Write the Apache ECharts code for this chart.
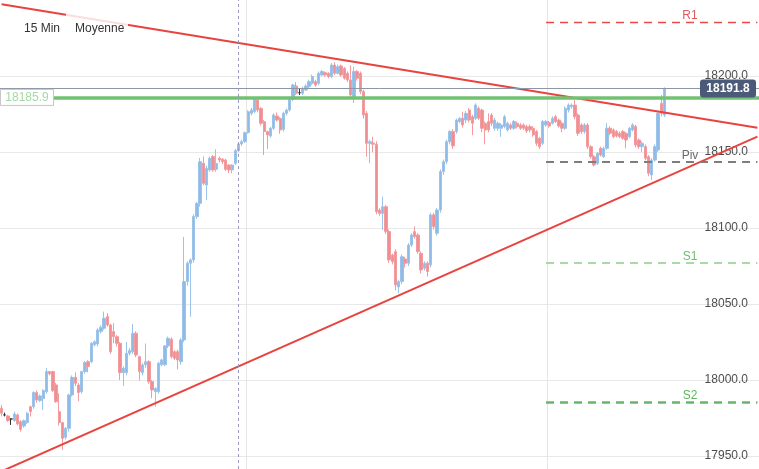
<!DOCTYPE html>
<html>
<head>
<meta charset="utf-8">
<script src="https://cdn.jsdelivr.net/npm/echarts@6/dist/echarts.min.js"></script>
<style>
  html, body { margin: 0; padding: 0; background: #fff; }
  #chart { width: 759px; height: 469px; }
</style>
</head>
<body>
<div id="chart"></div>
<script>
// 15 min candles: [open, close, low, high]
var candles = [
  [17981.4,17978.1,17976,17983.5],[17977,17977,17976,17978.5],[17976.3,17973.2,17972.5,17977],
  [17974.3,17974.3,17970.4,17974.8],[17973.2,17977.6,17972.5,17979.2],[17977,17971,17970,17978],
  [17972.6,17967.5,17966,17973.5],[17969.7,17973.2,17968.5,17974],[17971.9,17978.1,17971,17979],
  [17982.4,17979.2,17975.9,17983],[17982.4,17991.7,17981,17992.5],[17991.7,17986.8,17985,17993],
  [17986.4,17989.5,17985.5,17990.5],[17987.7,17993,17980.3,17994],[17992.3,18005.5,17991,18007.7],
  [18005.5,18004,18003,18006],[18005.5,17993,17992,18006],[17996.7,17985.7,17985,17998],
  [17979.2,17971.9,17970,17991.2],[17971.9,17961.6,17954,17972.5],[17962.3,17968.2,17960.8,17969],
  [17968.2,17990.1,17966,17991],[17990.1,18001.7,17989,18003],[18001.7,17997.8,17996,18005],
  [17996.7,17991.7,17986,17998],[17992.3,18005.5,17991,18006],[18005.5,18011.4,18004,18012.5],
  [18012,18008.8,18005,18013],[18012,18024.1,18011,18025],[18023.2,18025.2,18022,18026],
  [18023.7,18032.9,18022,18034],[18031.8,18034.6,18030.5,18036],[18034,18040.6,18033,18045],
  [18041.7,18036.2,18035,18044],[18036.2,18018.6,18017,18037],[18031.8,18028.5,18024.1,18037.3],
  [18028.5,18024.1,18022,18029.5],[18024.1,18004.8,18000,18025],[18004.8,18007.7,17996,18009],
  [18004.8,18017.5,18003,18025],[18017.5,18019.3,18016,18021],[18018.6,18030.7,18017,18036.8],
  [18030.7,18016.4,18015,18032],[18015.3,18005.5,17999.5,18016],[18004.8,18009.9,18003,18011],
  [18010,18012,18008,18024],[18012,17998.9,17997.5,18013],[17998.9,17993.4,17988,18000],
  [17992.3,17994.5,17982.4,17995],[17992.3,18011,17991,18012],[18010,18013.2,18009,18014],
  [18010,18022.4,18009,18023],[18022.4,18027.4,18021,18028.5],[18026.8,18015.3,18014,18028],
  [18018.6,18014.3,18013,18019.5],[18018.6,18013.2,18007,18020],[18012,18026.3,18010,18027.5],
  [18026.3,18064.7,18025,18094],[18064.7,18076.8,18062,18078],[18076.8,18079,18041.6,18080],
  [18079,18107.5,18077,18109],[18107.5,18116.2,18106,18117],[18116.2,18143.6,18114,18146],
  [18142.5,18129.4,18128,18147],[18128.3,18139.2,18118.4,18141],[18138.2,18145.9,18137,18147],
  [18147,18138.2,18137,18148],[18138.6,18142.5,18137,18151.8],[18145.9,18144.7,18143,18147],
  [18145.2,18143.6,18142,18146],[18144.7,18138.6,18137.5,18145.5],[18141.4,18138.2,18136,18142],
  [18138.2,18141.4,18136,18142],[18142.5,18150.9,18141.5,18152],[18150.9,18155.3,18150,18156.5],
  [18155.3,18156.8,18154,18158],[18156.8,18162.7,18156,18163.5],[18162.7,18176.5,18162,18177.5],
  [18175.4,18177.6,18174,18179],[18176.5,18184.6,18175.5,18185.5],[18184.2,18177.6,18176,18185],
  [18178.7,18168.9,18167.5,18179.5],[18169.9,18163.4,18148,18171],[18163.4,18161.2,18152,18164],
  [18160.5,18165.6,18159.5,18166.5],[18165.6,18174.3,18164.5,18175.5],[18173.7,18171,18170,18176],
  [18172.1,18164.5,18162,18173],[18164.9,18175.4,18163.5,18176.5],[18175.4,18177.6,18174,18178.5],
  [18177.6,18184.6,18176.5,18185.5],[18184.6,18194.1,18183.5,18195],[18193.4,18188.6,18187.5,18196],
  [18189,18189,18187.5,18192],[18188.6,18191.9,18187.5,18193],[18190.8,18193.4,18190,18194.5],
  [18193,18196.3,18192,18197.5],[18195.2,18199.6,18194,18201],[18196.3,18194.1,18193,18197.5],
  [18195.2,18201.8,18194,18203],[18200.7,18202.9,18200,18204],[18202.2,18200.7,18199.5,18203],
  [18201.8,18199.6,18198.5,18202.5],[18199.6,18207.2,18198.5,18208.5],[18207.2,18201.8,18200.5,18209],
  [18201.8,18206.1,18201,18207.5],[18206.6,18200.7,18199.5,18207.5],[18205,18198.5,18197.5,18206],
  [18201.8,18197.4,18196,18203],[18197.4,18187.5,18186,18207],[18186.4,18202.9,18182.2,18206.1],
  [18202.9,18198.5,18197,18204],[18201.8,18189.7,18188,18203],[18189.7,18174.3,18172,18191],
  [18175.4,18155.7,18146.9,18177],[18155.7,18156.8,18142.6,18158],[18155.9,18155.1,18150,18160],
  [18155.1,18110.7,18109,18157],[18111.8,18109.6,18108,18113],[18109.6,18114,18098.7,18120.6],
  [18114,18097.6,18096,18115],[18097.6,18079,18077,18099],[18082.2,18077.8,18076,18083],
  [18084.4,18062.5,18059,18086],[18061.2,18064.7,18057,18066],[18064.7,18081.1,18063,18082.5],
  [18079.6,18076.8,18074,18081],[18076.8,18088.8,18075,18090],[18088.8,18095.4,18087.5,18096.5],
  [18097.6,18094.3,18093,18101],[18095.4,18084.4,18083,18096.5],[18083.3,18072.4,18070,18084.5],
  [18073.5,18076.8,18072,18078],[18076.8,18071.3,18068,18078],[18075.7,18108.6,18074,18110],
  [18108.6,18100.9,18099,18110],[18096.5,18111.8,18095,18113],[18111.8,18137.1,18110,18138.5],
  [18137.1,18143.6,18135,18145],[18143.6,18156.8,18142,18158],[18156.8,18163.4,18155,18164.5],
  [18163.4,18154,18152,18165],[18163.4,18171,18162,18172],[18170,18172.1,18169,18173],
  [18172.2,18167.8,18166,18176.5],[18171,18175.4,18169,18177],[18177.6,18171,18169.5,18179],
  [18173.2,18168.9,18161,18174.5],[18172.2,18180.9,18171,18182],[18178.7,18172.2,18171,18180],
  [18177.6,18165.6,18163,18178.5],[18168.9,18164.5,18155,18170],[18170,18164.5,18163,18175.4],
  [18174.3,18168.9,18167,18175.5],[18165.6,18171,18164,18172.5],[18165.6,18168.9,18164,18170],
  [18165.6,18167.8,18160,18169],[18166.7,18173.2,18165.5,18174.5],[18164.5,18168.9,18163.5,18170],
  [18167.8,18165.6,18164.5,18169],[18165.6,18170,18164.5,18171],[18168.9,18166.7,18165.5,18170],
  [18167.8,18165.6,18164.5,18169],[18167.8,18165.6,18164.5,18168.9],[18166.7,18163.8,18162.5,18168],
  [18166.7,18164.5,18163,18168],[18165.6,18161.2,18160,18167],[18163.4,18155.7,18154,18164.5],
  [18159,18153.5,18152,18160],[18155.7,18170,18154.5,18171],[18167.8,18170,18166.5,18171],
  [18169.3,18167.1,18166,18170.5],[18168.9,18172.1,18168,18173.5],[18173.2,18170,18169,18174.5],
  [18171,18167.1,18166,18172],[18168.9,18165.6,18163,18170],[18165.6,18178.7,18164.5,18180],
  [18177.6,18180.9,18176,18182],[18179.8,18180.9,18178.5,18182],[18180.9,18173.2,18171.5,18184.2],
  [18174.3,18162.3,18160.5,18175.5],[18167.8,18163.4,18162,18169],[18163.4,18167.8,18162,18169],
  [18167.8,18153.5,18152,18169],[18153.5,18146.9,18145.5,18154.5],[18146.9,18141.4,18140.4,18148],
  [18142.5,18149.1,18141.5,18150],[18152.4,18148,18147,18153.5],[18146.9,18152.4,18146,18153.5],
  [18152.4,18165.6,18151.5,18168.9],[18165.6,18162.3,18161,18167],[18164.5,18160.1,18159,18165.5],
  [18163.4,18160.5,18159.5,18164.5],[18162.3,18160.1,18159,18163.5],[18163.4,18159,18158,18164.5],
  [18162.3,18157.9,18152.4,18163],[18160.1,18165.6,18159,18166.5],[18164.5,18167.8,18163.5,18169],
  [18166.7,18154.6,18153,18168],[18157.9,18153.5,18152,18159],[18153.5,18155.7,18150,18157],
  [18153.5,18145.8,18144.5,18155],[18146.9,18136,18134,18148],[18134.9,18144.7,18131.6,18146],
  [18144.7,18153.5,18143.5,18155],[18151.3,18175.4,18150,18176.5],[18182,18175.4,18173.5,18187.5],
  [18174.3,18191.8,18173,18192.5]
];

var slotCount = 237;            // candle slots across the full width
var dayBreaks = [77, 171];      // vertical grid lines (slot boundaries)
var sessionMark = 74;           // dashed vertical line
var pivotStart = 170;
var yMin = 17941.4, yMax = 18250;

var greenLevel = 18185.9;
var lastPrice = 18191.8;

var pivotNames  = ['R1', 'Piv', 'S1', 'S2'];
var pivotValues = [18235.5, 18143.6, 18077.2, 17985.5];
var pivotColors = ['#e64a4a', '#7d7d7d', '#a9d9a4', '#66b866'];
var pivotWidths = [1.3, 2, 2, 2.5];
var pivotLabelColors = ['#e05a5a', '#6a6a6a', '#6cc06c', '#5cb55c'];

var upperTrend = [[0, 18247.2], [236, 18166.0]];
var lowerTrend = [[0, 17939.9], [236, 18160.1]];

var slots = [];
for (var i = 0; i < slotCount; i++) slots.push(String(i));

var chart = echarts.init(document.getElementById('chart'));

var markLines = [
  { yAxis: lastPrice, lineStyle: { color: '#8d96a8', width: 1, type: 'solid' } },
  { yAxis: greenLevel, lineStyle: { color: '#72c072', width: 3.5, type: 'solid' } },
  { xAxis: sessionMark, lineStyle: { color: '#9d99bd', width: 1, type: [3, 3] } }
];
pivotValues.forEach(function (v, k) {
  markLines.push([
    { coord: [pivotStart, v], lineStyle: { color: pivotColors[k], width: pivotWidths[k], type: [8, 6] } },
    { coord: [slotCount - 1, v] }
  ]);
});

var option = {
  animation: false,
  backgroundColor: '#ffffff',
  grid: { left: 0, right: 0, top: 0, bottom: 0 },
  xAxis: {
    type: 'category',
    data: slots,
    boundaryGap: true,
    axisLine: { show: false },
    axisTick: { show: false },
    axisLabel: { show: false },
    splitLine: {
      show: true,
      interval: function (idx) { return dayBreaks.indexOf(idx) >= 0; },
      lineStyle: { color: '#e6e6e6', width: 1 }
    }
  },
  yAxis: {
    type: 'value',
    position: 'right',
    min: yMin,
    max: yMax,
    splitNumber: 6,
    axisLine: { show: false },
    axisTick: { show: false },
    axisLabel: {
      inside: true,
      margin: 11,
      color: '#4d4d4d',
      fontSize: 12,
      fontFamily: 'Liberation Sans, Arial, sans-serif',
      showMinLabel: false,
      showMaxLabel: false,
      formatter: function (v) { return v.toFixed(1); }
    },
    splitLine: {
      showMinLine: false,
      showMaxLine: false,
      lineStyle: { color: '#e8e8e8', width: 1 }
    }
  },
  series: [
    {
      type: 'candlestick',
      data: candles,
      barWidth: '88%',
      z: 2,
      itemStyle: {
        color: '#90bbe7',
        color0: '#ef8f93',
        borderColor: '#9cc3ea',
        borderColor0: '#f29ca0',
        borderColorDoji: '#333333',
        borderWidth: 1
      }
    },
    {
      type: 'line',
      data: upperTrend,
      symbol: 'none',
      z: 4,
      lineStyle: { color: '#e8443f', width: 2 },
      markLine: {
        silent: true,
        symbol: 'none',
        label: { show: false },
        data: markLines
      }
    },
    {
      type: 'line',
      data: lowerTrend,
      symbol: 'none',
      z: 4,
      lineStyle: { color: '#e8443f', width: 2 }
    }
  ]
};

chart.setOption(option);

// labels positioned from the y scale
function py(v) { return chart.convertToPixel({ yAxisIndex: 0 }, v); }

var elements = [
  { type: 'rect', z: 100, shape: { x: 66, y: 12, width: 62, height: 30 }, style: { fill: 'rgba(255,255,255,0.82)' } },
  { type: 'text', z: 101, style: { text: '15 Min', x: 24, y: 29, textVerticalAlign: 'middle', fill: '#333', font: '12px "Liberation Sans", Arial, sans-serif' } },
  { type: 'text', z: 101, style: { text: 'Moyenne', x: 75, y: 29, textVerticalAlign: 'middle', fill: '#333', font: '12px "Liberation Sans", Arial, sans-serif' } },
  { type: 'rect', z: 100, shape: { x: 0.5, y: py(greenLevel) - 8, width: 53, height: 16 }, style: { fill: '#fff', stroke: '#c6c6c6', lineWidth: 1 } },
  { type: 'text', z: 101, style: { text: greenLevel.toFixed(1), x: 27, y: py(greenLevel), textAlign: 'center', textVerticalAlign: 'middle', fill: '#a6d8a6', font: '12px "Liberation Sans", Arial, sans-serif' } },
  { type: 'rect', z: 100, shape: { x: 700, y: py(lastPrice) - 9, width: 56, height: 18, r: 3 }, style: { fill: '#4b5a78' } },
  { type: 'text', z: 101, style: { text: lastPrice.toFixed(1), x: 728, y: py(lastPrice), textAlign: 'center', textVerticalAlign: 'middle', fill: '#fff', font: 'bold 12px "Liberation Sans", Arial, sans-serif' } }
];
pivotNames.forEach(function (name, k) {
  elements.push({
    type: 'text', z: 101,
    style: { text: name, x: 690, y: py(pivotValues[k]) - 6, textAlign: 'center', textVerticalAlign: 'middle', fill: pivotLabelColors[k], font: '12px "Liberation Sans", Arial, sans-serif' }
  });
});

chart.setOption({ graphic: { elements: elements } });
</script>
</body>
</html>
